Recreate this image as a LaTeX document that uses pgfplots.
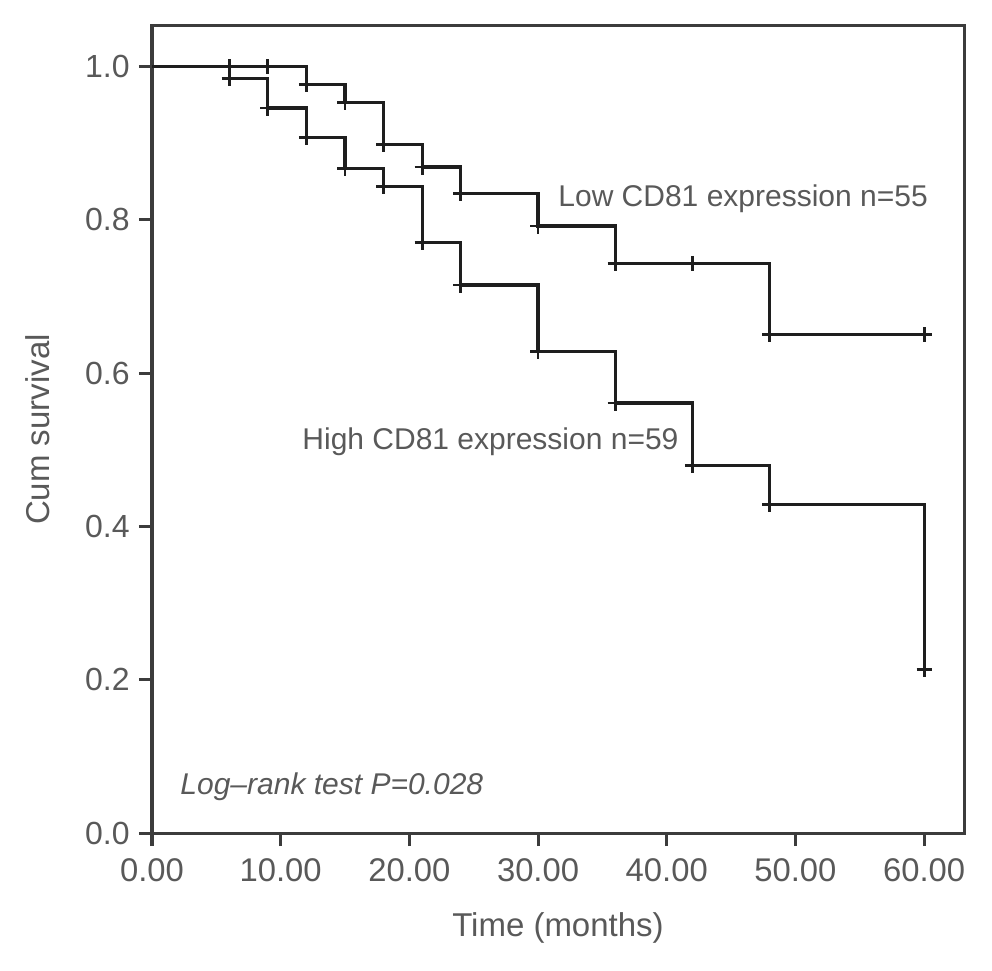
\documentclass[border=0pt]{standalone}
\usepackage{fontspec}
\setmainfont{Liberation Sans}
\usepackage{pgfplots}
\pgfplotsset{compat=1.18}
\definecolor{txt}{HTML}{595959}
\definecolor{ax}{HTML}{3C3C3C}
\definecolor{crv}{HTML}{1E1E1E}
\begin{document}
\begin{tikzpicture}
\begin{axis}[
  scale only axis, width=406pt, height=403.5pt,
  xmin=0, xmax=63.1, ymin=0, ymax=1.053,
  xtick={0,10,20,30,40,50,60},
  xticklabels={0.00,10.00,20.00,30.00,40.00,50.00,60.00},
  ytick={0,0.2,0.4,0.6,0.8,1},
  yticklabels={0.0,0.2,0.4,0.6,0.8,1.0},
  tick pos=left, tick align=outside, major tick length=6.5pt,
  axis line style={ax, line width=1.5pt},
  major tick style={ax, line width=1.5pt},
  xticklabel style={font=\fontsize{16.4}{19}\selectfont, text=txt, inner sep=0pt, anchor=north, yshift=-6pt},
  yticklabel style={font=\fontsize{16}{19}\selectfont, text=txt, inner sep=0pt, anchor=east, xshift=-4.5pt},
  xlabel={Time (months)},
  ylabel={Cum survival},
  xlabel style={at={(rel axis cs:0.5,-0.1177)}, anchor=center, font=\fontsize{16.5}{19}\selectfont, text=txt, inner sep=0pt},
  ylabel style={at={(rel axis cs:-0.1404,0.5)}, anchor=center, font=\fontsize{16.5}{19}\selectfont, text=txt, inner sep=0pt},
  clip=false,
]
% Low CD81 expression
\addplot[const plot, crv, line width=1.6pt] coordinates {
  (0,1) (12,0.977) (15,0.953) (18,0.898) (21,0.869) (24,0.834)
  (30,0.792) (36,0.743) (48,0.650) (60,0.650)};
\addplot[only marks, mark=+, mark size=3.8pt, crv, mark options={line width=1.4pt}] coordinates {
  (6,1) (9,1) (12,0.977) (15,0.953) (18,0.898) (21,0.869) (24,0.834)
  (30,0.792) (36,0.743) (42,0.743) (48,0.650) (60,0.650)};
% High CD81 expression
\addplot[const plot, crv, line width=1.6pt] coordinates {
  (0,1) (6,0.984) (9,0.946) (12,0.908) (15,0.867) (18,0.844) (21,0.771)
  (24,0.715) (30,0.628) (36,0.561) (42,0.480) (48,0.429) (60,0.213)};
\addplot[only marks, mark=+, mark size=3.8pt, crv, mark options={line width=1.4pt}] coordinates {
  (6,0.984) (9,0.946) (12,0.908) (15,0.867) (18,0.844) (21,0.771)
  (24,0.715) (30,0.628) (36,0.561) (42,0.480) (48,0.429) (60,0.213)};
\node[anchor=west, inner sep=0pt, text=txt, font=\fontsize{15}{18}\selectfont] at (axis cs:31.55,0.828) {Low CD81 expression n=55};
\node[anchor=west, inner sep=0pt, text=txt, font=\fontsize{15}{18}\selectfont] at (axis cs:11.66,0.511) {High CD81 expression n=59};
\node[anchor=west, inner sep=0pt, text=txt, font=\fontsize{15}{18}\selectfont\itshape] at (axis cs:2.18,0.060) {Log--rank test P=0.028};
\end{axis}
\pgfresetboundingbox
\path ([shift={(-76pt,-68.5pt)}]current axis.south west) rectangle ([shift={(14pt,13pt)}]current axis.north east);
\end{tikzpicture}
\end{document}
